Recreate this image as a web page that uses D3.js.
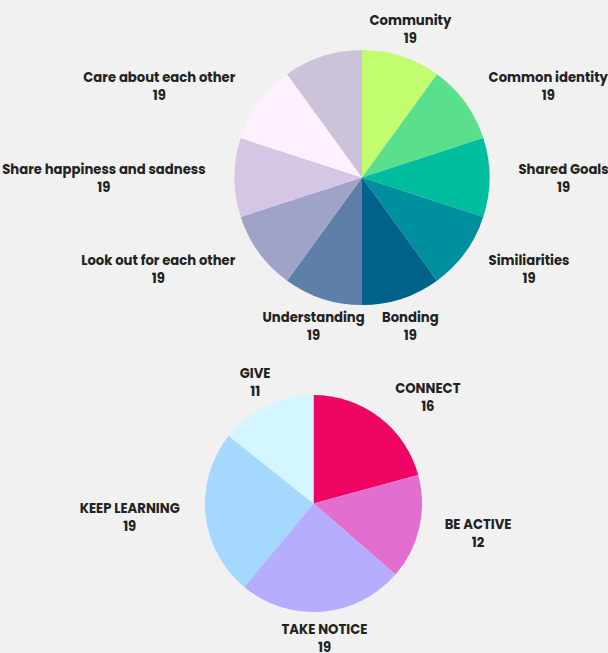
<!DOCTYPE html>
<html>
<head>
<meta charset="utf-8">
<script src="https://cdn.jsdelivr.net/npm/d3@7"></script>
<style>
  html, body { margin: 0; padding: 0; background: #f1f1f1; }
  svg { display: block; }
  .lbl { font-family: Poppins, Inter, "Open Sans", sans-serif; font-weight: 700; font-size: 13.2px; fill: #222; }
</style>
</head>
<body>
<div id="chart"></div>
<script>
// top pie
const topNames = ["Community", "Common identity", "Shared Goals", "Similiarities", "Bonding",
  "Understanding", "Look out for each other", "Share happiness and sadness", "Care about each other", null];
const topValues = [19, 19, 19, 19, 19, 19, 19, 19, 19, 19];
const topColors = ["#c2fd6f", "#5ae08d", "#00bd9e", "#008f9e", "#016289",
  "#5e80a8", "#9fa3c8", "#d6c6e6", "#fff0ff", "#ccc3d9"];

// bottom pie
const botNames = ["CONNECT", "BE ACTIVE", "TAKE NOTICE", "KEEP LEARNING", "GIVE"];
const botValues = [16, 12, 19, 19, 11];
const botColors = ["#ef0563", "#e26fcf", "#b5aeff", "#a4d8ff", "#d3f6ff"];

const W = 608, H = 653;
const svg = d3.select("#chart").append("svg").attr("width", W).attr("height", H);

function drawPie(names, values, colors, cx, cy, r, gap) {
  const data = names.map(function(n, i) { return {name: n, value: values[i], color: colors[i]}; });
  const pie = d3.pie().sort(null).value(function(d) { return d.value; });
  const arc = d3.arc().innerRadius(0).outerRadius(r);
  const arcs = pie(data);
  const g = svg.append("g").attr("transform", "translate(" + cx + "," + cy + ")");

  g.selectAll("path").data(arcs).enter().append("path")
    .attr("d", arc)
    .attr("fill", function(d) { return d.data.color; });

  const lr = r + gap;
  const lab = g.selectAll("g.lab").data(arcs.filter(function(d) { return d.data.name; }))
    .enter().append("g").attr("class", "lab")
    .attr("transform", function(d) {
      const a = (d.startAngle + d.endAngle) / 2;
      return "translate(" + (lr * Math.sin(a)) + "," + (-lr * Math.cos(a)) + ")";
    });

  lab.each(function(d) {
    const a = (d.startAngle + d.endAngle) / 2, s = Math.sin(a);
    const el = d3.select(this);
    const t1 = el.append("text").attr("class", "lbl").attr("y", -4).text(d.data.name);
    const w = t1.node().getComputedTextLength();
    let x0 = -w / 2;
    if (s > 0.5) x0 = 0;
    else if (s < -0.5) x0 = -w;
    t1.attr("x", x0 + w / 2).attr("text-anchor", "middle");
    el.append("text").attr("class", "lbl").attr("text-anchor", "middle")
      .attr("x", x0 + w / 2).attr("y", 14).text(d.data.value);
  });
}

drawPie(topNames, topValues, topColors, 362, 177.5, 127.5, 29);
drawPie(botNames, botValues, botColors, 313.5, 503.5, 108.5, 26);
</script>
</body>
</html>
